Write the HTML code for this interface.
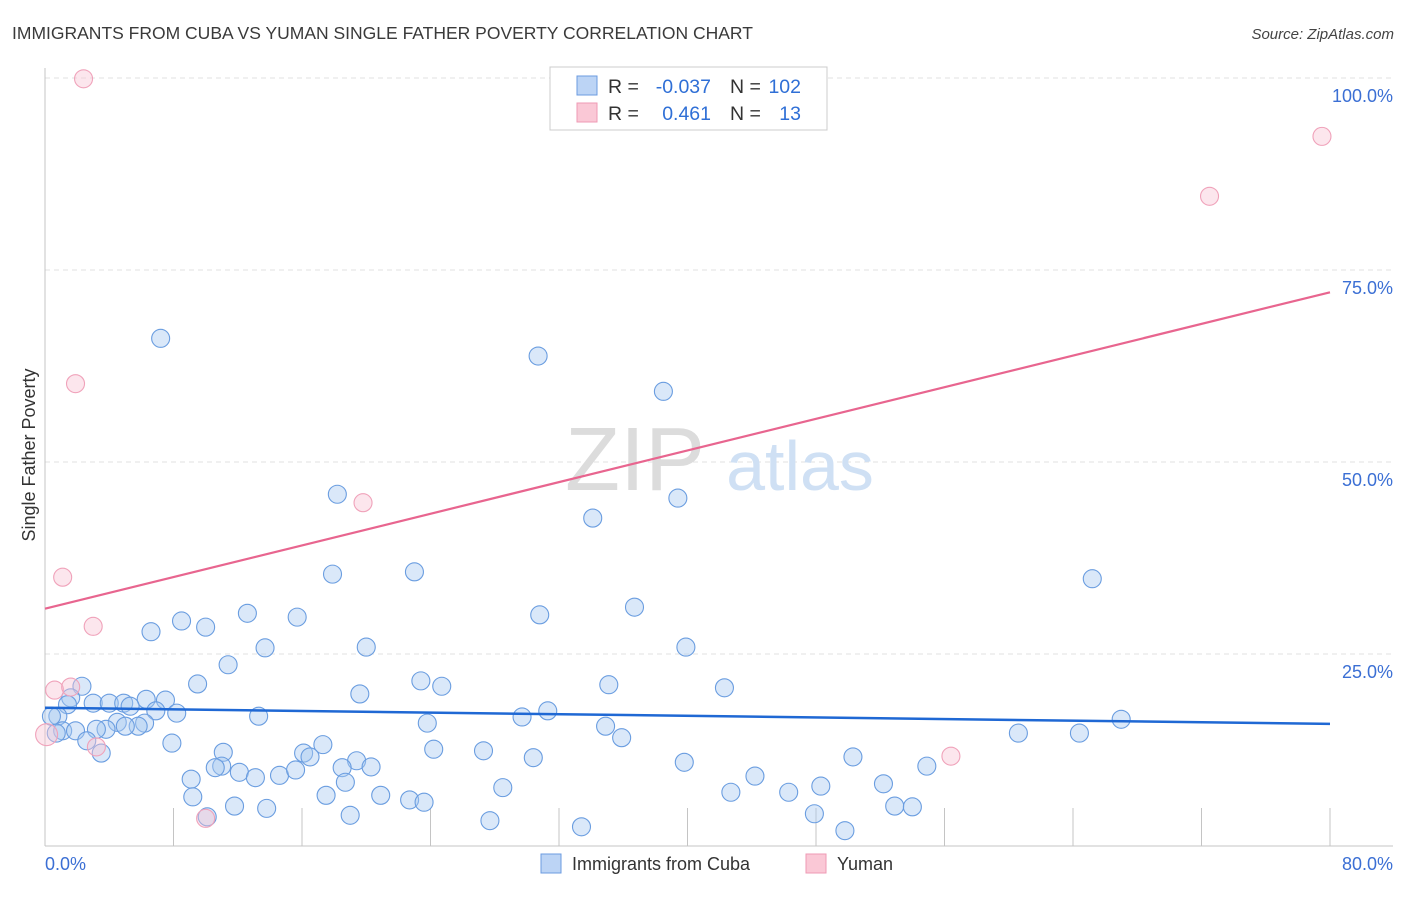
<!DOCTYPE html>
<html><head><meta charset="utf-8"><style>
body{margin:0;background:#fff;font-family:"Liberation Sans",sans-serif;}
svg text{font-family:"Liberation Sans",sans-serif;}
</style></head><body>
<svg id="chart" width="1406" height="892">
<text x="12" y="39" font-size="17.5" fill="#3a3a3a">IMMIGRANTS FROM CUBA VS YUMAN SINGLE FATHER POVERTY CORRELATION CHART</text>
<text x="1394" y="39" font-size="15" fill="#444" font-style="italic" text-anchor="end">Source: ZipAtlas.com</text>
<g id="grid"></g>
<text x="635" y="490" font-size="90" fill="#dcdcdc" font-family="Liberation Serif" text-anchor="middle">ZIP</text>
<text x="800" y="490" font-size="70" fill="#cfe0f4" text-anchor="middle">atlas</text>
<g id="points"></g>
<g id="lines"></g>
<text x="35" y="455" font-size="18" fill="#333" text-anchor="middle" transform="rotate(-90 35 455)">Single Father Poverty</text>
<g>
<rect x="550" y="67" width="277" height="63" fill="#fff" stroke="#ccc"/>
<rect x="577" y="76" width="20" height="19" fill="#bcd4f5" stroke="#6b9be0"/>
<rect x="577" y="103" width="20" height="19" fill="#fac8d6" stroke="#ef9ab4"/>
<text x="608" y="93" font-size="19.5" fill="#333">R =</text>
<text x="711" y="93" font-size="19.5" fill="#2f6fd6" text-anchor="end">-0.037</text>
<text x="730" y="93" font-size="19.5" fill="#333">N =</text>
<text x="801" y="93" font-size="19.5" fill="#2f6fd6" text-anchor="end">102</text>
<text x="608" y="120" font-size="19.5" fill="#333">R =</text>
<text x="711" y="120" font-size="19.5" fill="#2f6fd6" text-anchor="end">0.461</text>
<text x="730" y="120" font-size="19.5" fill="#333">N =</text>
<text x="801" y="120" font-size="19.5" fill="#2f6fd6" text-anchor="end">13</text>
</g>
<g>
<rect x="541" y="854" width="20" height="19" fill="#bcd4f5" stroke="#6b9be0"/>
<text x="572" y="870" font-size="18" fill="#333">Immigrants from Cuba</text>
<rect x="806" y="854" width="20" height="19" fill="#fac8d6" stroke="#ef9ab4"/>
<text x="837" y="870" font-size="18" fill="#333">Yuman</text>
</g>
<text x="45" y="870" font-size="18" fill="#3b6fd4">0.0%</text>
<text x="1393" y="870" font-size="18" fill="#3b6fd4" text-anchor="end">80.0%</text>
</svg>
<script>
const blueX=[7.2,30.7,38.5,18.2,39.4,34.1,17.9,23.0,65.2,30.8,36.7,8.5,12.6,15.7,10.0,6.6,39.9,13.7,20.0,11.4,2.3,9.5,23.4,24.7,35.1,42.3,19.6,1.6,3.0,1.4,4.0,4.9,6.3,7.5,5.3,8.2,6.9,13.3,23.8,29.7,31.3,67.0,0.8,0.4,4.5,6.2,3.8,5.8,5.0,3.2,1.1,0.7,1.9,2.6,7.9,34.9,35.9,60.6,64.4,3.5,17.3,11.1,24.2,27.3,16.1,30.4,50.3,16.5,19.4,39.8,11.0,10.6,20.3,18.5,12.1,13.1,14.6,15.6,9.1,54.9,44.2,52.2,48.3,18.7,28.5,42.7,46.3,17.5,20.9,22.7,23.6,9.2,11.8,13.8,52.9,54.0,19.0,47.9,27.7,33.4,49.8,10.1];
const blueY=[66.1,63.8,59.2,45.8,45.3,42.7,35.4,35.7,34.8,30.1,31.1,29.3,30.3,29.8,28.5,27.9,25.9,25.8,25.9,23.6,20.8,21.1,21.5,20.8,21.0,20.6,19.8,19.3,18.6,18.4,18.6,18.6,19.1,19.0,18.2,17.3,17.6,16.9,16.0,16.8,17.6,16.5,16.9,16.9,16.1,16.0,15.2,15.6,15.6,15.2,15.0,14.7,15.0,13.7,13.4,15.6,14.1,14.7,14.7,12.1,13.2,12.2,12.6,12.4,12.1,11.5,11.6,11.6,11.1,10.9,10.4,10.2,10.3,10.2,9.6,8.9,9.2,9.9,8.7,10.4,9.1,8.1,7.8,8.3,7.6,7.0,7.0,6.6,6.6,6.0,5.7,6.4,5.2,4.9,5.2,5.1,4.0,4.2,3.3,2.5,2.0,3.8];
const pinkX=[2.4,79.5,72.5,1.9,19.8,1.1,3.0,0.6,1.6,3.2,56.4,10.0,0.1];
const pinkY=[99.9,92.4,84.6,60.2,44.7,35.0,28.6,20.3,20.7,12.9,11.7,3.6,14.5];
const blueTrend=[18.0,15.9];
const pinkTrend=[30.9,72.1];
const yTicks=[25,50,75,100];
const yTickLabels=["25.0%","50.0%","75.0%","100.0%"];
const xTicks=[8,16,24,32,40,48,56,64,72,80];
const NS="http://www.w3.org/2000/svg";
const sx=v=>45+v/80*1285;
const sy=v=>846-v/100*768;
function mk(tag,attrs,parent){const e=document.createElementNS(NS,tag);for(const k in attrs)e.setAttribute(k,attrs[k]);parent.appendChild(e);return e;}
const grid=document.getElementById('grid');
yTicks.forEach((t,i)=>{
 const l=mk('line',{x1:45,x2:1393,y1:sy(t),y2:sy(t),stroke:'#e2e2e2','stroke-dasharray':'5,4'},grid);
 
 
 const tx=mk('text',{x:1393,y:sy(t)+24,'font-size':18,fill:'#3b6fd4','text-anchor':'end'},grid);
 tx.textContent=yTickLabels[i];
 
 
});
const ax=mk('line',{x1:45,x2:45,y1:68,y2:846,stroke:'#c4c4c4'},grid);


const bx=mk('line',{x1:45,x2:1393,y1:846,y2:846,stroke:'#c4c4c4'},grid);


xTicks.forEach(t=>{
 const l=mk('line',{x1:sx(t),x2:sx(t),y1:808,y2:846,stroke:'#c4c4c4'},grid);
 
 
});
const pts=document.getElementById('points');
blueX.forEach((x,i)=>{
 const c=mk('circle',{cx:sx(x),cy:sy(blueY[i]),r:9,fill:'rgba(168,200,240,0.42)',stroke:'#6a9de0','stroke-width':1.1},pts);
 
 
});
pinkX.forEach((x,i)=>{
 const c=mk('circle',{cx:sx(x),cy:sy(pinkY[i]),r:i==12?11:9,fill:'rgba(248,196,212,0.42)',stroke:'#f0a2ba','stroke-width':1.1},pts);
 
 
});
const lines=document.getElementById('lines');
const bl=mk('line',{x1:sx(0),x2:sx(80),y1:sy(blueTrend[0]),y2:sy(blueTrend[1]),stroke:'#1f68d4','stroke-width':2.5},lines);


const pl=mk('line',{x1:sx(0),x2:sx(80),y1:sy(pinkTrend[0]),y2:sy(pinkTrend[1]),stroke:'#e8658f','stroke-width':2.2},lines);


</script>
</body></html>
